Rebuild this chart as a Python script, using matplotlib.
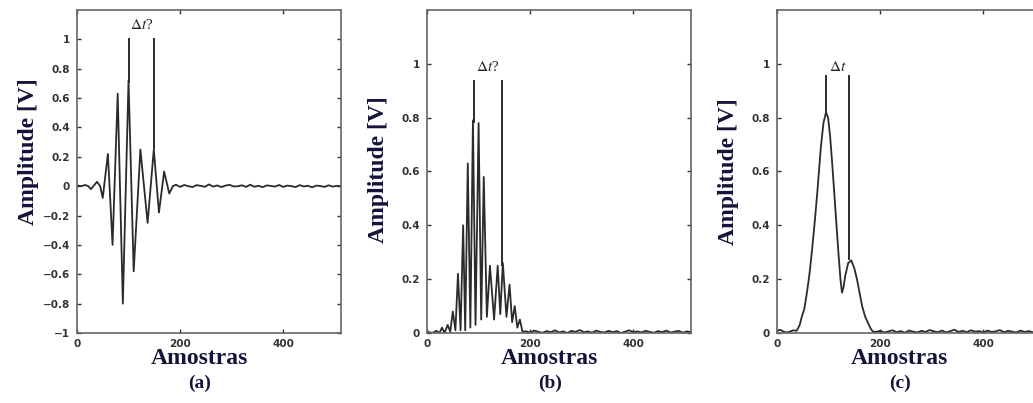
import numpy as np
import matplotlib.pyplot as plt

# amostras / amplitudes
a_x = [0, 8, 16, 22, 27, 33, 39, 45, 50, 60, 69, 79, 89, 100, 110, 123, 137, 149, 159, 169, 179, 186]
a_y = [0.005, 0.0, 0.008, 0.0, -0.02, 0.005, 0.03, 0.0, -0.08, 0.22, -0.4, 0.63, -0.8, 0.72, -0.58, 0.25,
       -0.25, 0.25, -0.18, 0.1, -0.05, 0.0]
a_tail = [0.01, -0.005, 0.008, 0.0, -0.006, 0.007, 0.002, -0.004, 0.012, -0.003, 0.005, -0.006, 0.004,
          0.009, -0.002, 0.0, 0.006, -0.005, 0.01, -0.004, 0.003, -0.007, 0.005, 0.002, -0.003, 0.008,
          -0.005, 0.004, 0.0, -0.006, 0.007, -0.002, 0.003, -0.008, 0.004, 0.001, -0.005, 0.006, -0.003,
          0.002, 0.0]

b_x = [0, 10, 18, 24, 29, 34, 40, 45, 50, 55, 60, 65, 70, 74, 79, 84, 89, 94, 100, 105, 110, 116, 122,
       130, 137, 142, 147, 154, 160, 165, 170, 175, 180, 185]
b_y = [0.005, 0.0, 0.008, 0.0, 0.02, 0.0, 0.03, 0.005, 0.08, 0.01, 0.22, 0.01, 0.4, 0.01, 0.63, 0.02,
       0.79, 0.03, 0.78, 0.05, 0.58, 0.06, 0.25, 0.05, 0.25, 0.07, 0.26, 0.06, 0.18, 0.04, 0.1, 0.02,
       0.05, 0.005]
b_tail = [0.006, 0.002, 0.009, 0.004, 0.001, 0.007, 0.003, 0.01, 0.002, 0.006, 0.0, 0.008, 0.004,
          0.011, 0.003, 0.006, 0.001, 0.009, 0.004, 0.002, 0.008, 0.003, 0.007, 0.0, 0.005, 0.01,
          0.003, 0.006, 0.002, 0.008, 0.004, 0.001, 0.007, 0.003, 0.009, 0.002, 0.005, 0.008, 0.001,
          0.006, 0.003]

c_x = [0, 6, 14, 20, 26, 31, 38, 44, 48, 53, 58, 63, 68, 73, 78, 85, 90, 95, 99, 103, 107, 111, 115,
       119, 123, 126, 129, 132, 138, 144, 150, 155, 160, 165, 171, 177, 182, 186]
c_y = [0.008, 0.012, 0.004, 0.002, 0.006, 0.01, 0.008, 0.03, 0.06, 0.09, 0.15, 0.22, 0.31, 0.41, 0.52,
       0.69, 0.78, 0.82, 0.8, 0.73, 0.63, 0.52, 0.41, 0.3, 0.2, 0.15, 0.17, 0.21, 0.26, 0.27, 0.24, 0.2,
       0.15, 0.1, 0.06, 0.035, 0.015, 0.005]
c_tail = [0.004, 0.008, 0.002, 0.006, 0.01, 0.003, 0.007, 0.001, 0.009, 0.005, 0.002, 0.008, 0.004,
          0.011, 0.006, 0.003, 0.009, 0.002, 0.007, 0.012, 0.004, 0.008, 0.003, 0.01, 0.005, 0.007,
          0.002, 0.009, 0.004, 0.006, 0.011, 0.003, 0.008, 0.005, 0.002, 0.009, 0.004, 0.007, 0.003,
          0.006, 0.002]
tail_x = np.arange(192, 513, 8)

# linhas de marcacao do delta t: (x, topo, base)
a_marks = [(100, 1.01, 0.7), (149, 1.01, 0.25)]
b_marks = [(91, 0.94, 0.78), (145, 0.94, 0.25)]
c_marks = [(95, 0.96, 0.82), (140, 0.96, 0.27)]

panels = [
    (a_x, a_y, a_tail, a_marks, r'$\Delta t$?', (126, 1.095), (-1, 1.2), [-1, -0.8, -0.6, -0.4, -0.2, 0, 0.2, 0.4, 0.6, 0.8, 1], '(a)'),
    (b_x, b_y, b_tail, b_marks, r'$\Delta t$?', (118, 0.99), (0, 1.2), [0, 0.2, 0.4, 0.6, 0.8, 1], '(b)'),
    (c_x, c_y, c_tail, c_marks, r'$\Delta t$', (117, 0.99), (0, 1.2), [0, 0.2, 0.4, 0.6, 0.8, 1], '(c)'),
]
lefts = [0.0745, 0.4134, 0.7522]
ylab_y = [0.56, 0.505, 0.5]

plt.rcParams['mathtext.fontset'] = 'stix'
fig = plt.figure(figsize=(10.33, 4.03), dpi=100)
linecol = '#2b2b2b'

for i, (xs, ys, tail, marks, dt, dtpos, ylim, yt, cap) in enumerate(panels):
    ax = fig.add_axes([lefts[i], 0.1737, 0.2556, 0.8015])
    ax.plot(list(xs) + list(tail_x), list(ys) + list(tail), color=linecol, lw=1.3)
    for mx, top, bot in marks:
        ax.vlines(mx, bot, top, color=linecol, lw=1.4)
    ax.text(dtpos[0], dtpos[1], dt, fontsize=11, ha='center', va='center',
            family='Liberation Serif', color='#222')
    ax.set_xlim(0, 512)
    ax.set_ylim(*ylim)
    ax.set_xticks([0, 200, 400])
    ax.set_yticks(yt)
    ax.set_yticklabels([f'{v:g}'.replace('-', '\u2212') for v in yt])
    ax.tick_params(direction='in', length=3, width=1, top=True, right=True, labelsize=7.5,
                   colors='#333', pad=5)
    ax.tick_params(axis='x', pad=4)
    for lab in ax.get_xticklabels() + ax.get_yticklabels():
        lab.set_fontweight('bold')
    for sp in ax.spines.values():
        sp.set_color('#666')
        sp.set_linewidth(1.2)
    ax.set_ylabel('Amplitude [V]', family='Liberation Serif', fontweight='bold', fontsize=17,
                  color='#14143a', va='center')
    ax.yaxis.set_label_coords(-0.185, ylab_y[i])
    ax.set_xlabel('Amostras', family='Liberation Serif', fontweight='bold', fontsize=17,
                  color='#14143a', va='center')
    ax.xaxis.set_label_coords(0.465, -0.08)
    ax.text(0.465, -0.157, cap, transform=ax.transAxes, family='Liberation Serif',
            fontweight='bold', fontsize=14, ha='center', va='center', color='#14143a')

fig.savefig('out.png', dpi=100)
